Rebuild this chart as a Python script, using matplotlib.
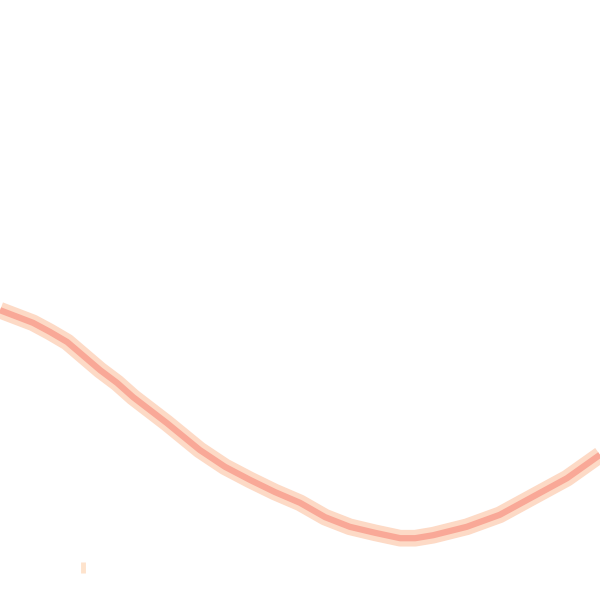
import matplotlib
matplotlib.use("Agg")
import matplotlib.pyplot as plt

# curve (x and y in 0..100 units)
x_vals = [0, 5.5, 8.3, 11.2, 16.7, 19.5, 22.2, 27.8, 33.3, 37.5, 41.7, 45.8, 50, 54.2, 58.3,
          62.5, 66.7, 69.2, 72.2, 77.8, 83.3, 88.8, 94.5, 100]
y_vals = [48.3, 46.2, 44.7, 43.0, 38.3, 36.2, 33.8, 29.5, 25.0, 22.2, 20.0, 18.0, 16.2, 13.8, 12.2,
          11.2, 10.3, 10.3, 10.8, 12.2, 14.2, 17.2, 20.3, 24.2]

# the small stray tick near the bottom left
tick_x = [13.9, 13.9]
tick_y = [4.5, 6.3]

fig = plt.figure(figsize=(6, 6), dpi=100)
ax = fig.add_axes([0, 0, 1, 1])

# soft halo, then the darker core of the line
ax.plot(x_vals, y_vals, color="#fddac6", linewidth=12, solid_capstyle="butt", solid_joinstyle="round")
ax.plot(x_vals, y_vals, color="#f9a897", linewidth=4.5, solid_capstyle="butt", solid_joinstyle="round")
ax.plot(tick_x, tick_y, color="#fee3cc", linewidth=3.5, solid_capstyle="butt")

ax.set_xlim(0, 100)
ax.set_ylim(0, 100)
ax.axis("off")

fig.savefig("out.png", dpi=100, facecolor="white")
